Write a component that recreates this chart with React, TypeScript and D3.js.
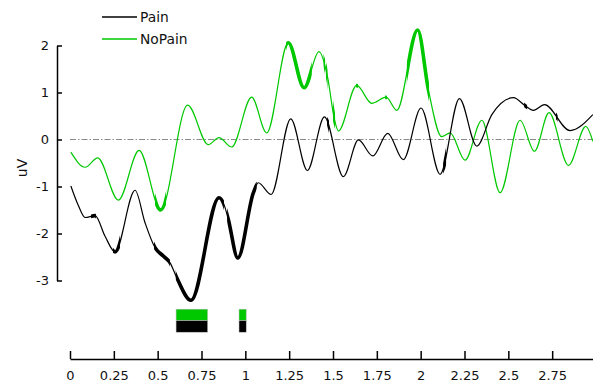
import React, { useEffect, useRef } from "react";
import * as d3 from "d3";

// waveform samples (time in s, amplitude in uV)
const painTime = [0.005, 0.047, 0.086, 0.143, 0.2, 0.257, 0.371, 0.428, 0.485, 0.532, 0.57, 0.609, 0.69, 0.85, 0.878, 0.903, 0.957, 1.046, 1.074, 1.147, 1.259, 1.354, 1.451, 1.559, 1.645, 1.727, 1.812, 1.901, 2.002, 2.111, 2.221, 2.32, 2.406, 2.529, 2.596, 2.643, 2.706, 2.852, 2.982];
const painUv = [-0.99, -1.4, -1.66, -1.62, -2.06, -2.39, -1.08, -1.77, -2.3, -2.48, -2.62, -2.94, -3.42, -1.24, -1.38, -1.7, -2.52, -1.13, -0.92, -1.17, 0.44, -0.66, 0.48, -0.79, -0.01, -0.35, 0.13, -0.43, 0.67, -0.74, 0.87, -0.14, 0.53, 0.89, 0.72, 0.62, 0.74, 0.19, 0.53];

const noPainTime = [0.005, 0.086, 0.158, 0.276, 0.394, 0.517, 0.671, 0.789, 0.85, 0.922, 1.036, 1.122, 1.245, 1.335, 1.42, 1.47, 1.508, 1.531, 1.635, 1.721, 1.803, 1.864, 1.983, 2.044, 2.12, 2.168, 2.253, 2.349, 2.453, 2.567, 2.649, 2.732, 2.843, 2.942, 2.982];
const noPainUv = [-0.27, -0.59, -0.39, -1.29, -0.23, -1.5, 0.73, -0.11, 0.04, -0.16, 0.9, 0.14, 2.06, 1.1, 1.87, 1.31, 0.43, 0.18, 1.15, 0.77, 0.9, 0.62, 2.33, 1.06, 0.06, 0.14, -0.44, 0.41, -1.13, 0.41, -0.25, 0.57, -0.55, 0.28, -0.04];

// significant stretches, drawn with a thicker line
const painSig = [[0.12, 0.148], [0.245, 0.285], [0.479, 0.57], [0.603, 0.878], [0.896, 1.065], [1.466, 1.477], [2.128, 2.145], [2.59, 2.607], [2.772, 2.781]];
const noPainSig = [[0.485, 0.548], [1.232, 1.379], [1.446, 1.455], [1.46, 1.469], [1.5, 1.512], [1.631, 1.643], [1.797, 1.808], [1.921, 2.048]];

// cluster windows shown as bars under the curves
const clusterWindows = [[0.605, 0.785], [0.964, 1.005]];

const xTicks = [0, 0.25, 0.5, 0.75, 1, 1.25, 1.5, 1.75, 2, 2.25, 2.5, 2.75];
const xTickLabels = ["0", "0.25", "0.5", "0.75", "1", "1.25", "1.5", "1.75", "2", "2.25", "2.5", "2.75"];
const yTicks = [-3, -2, -1, 0, 1, 2];
const seriesNames = ["Pain", "NoPain"];
const colors = ["#000000", "#00c800"];

const W = 593;
const H = 383;
const FONT = "DejaVu Sans, Verdana, sans-serif";

export default function App() {
  const ref = useRef<SVGSVGElement>(null);

  useEffect(() => {
    const svg = d3.select(ref.current);
    svg.selectAll("*").remove();

    const x = d3.scaleLinear().domain([0, 3]).range([70, 596]);
    const y = d3.scaleLinear().domain([-3, 2]).range([280.5, 45.5]);

    // zero line
    svg.append("line")
      .attr("x1", x(0)).attr("x2", W)
      .attr("y1", y(0)).attr("y2", y(0))
      .attr("stroke", "#8a8a8a")
      .attr("stroke-width", 1)
      .attr("stroke-dasharray", "6,2,1.5,2");

    const line = d3.line<[number, number]>()
      .x(d => x(d[0]))
      .y(d => y(d[1]))
      .curve(d3.curveMonotoneX);

    const series = [
      { name: seriesNames[1], t: noPainTime, v: noPainUv, sig: noPainSig, color: colors[1] },
      { name: seriesNames[0], t: painTime, v: painUv, sig: painSig, color: colors[0] },
    ];

    const defs = svg.append("defs");

    series.forEach((s, i) => {
      const pts = s.t.map((t, k) => [t, s.v[k]] as [number, number]);
      const clipId = `sig-${i}`;
      const clip = defs.append("clipPath").attr("id", clipId);
      s.sig.forEach(([a, b]) => {
        clip.append("rect")
          .attr("x", x(a)).attr("width", x(b) - x(a))
          .attr("y", 0).attr("height", H);
      });

      svg.append("path")
        .attr("d", line(pts))
        .attr("fill", "none")
        .attr("stroke", s.color)
        .attr("stroke-width", 1.2);

      svg.append("path")
        .attr("d", line(pts))
        .attr("fill", "none")
        .attr("stroke", s.color)
        .attr("stroke-width", 3.6)
        .attr("clip-path", `url(#${clipId})`);
    });

    // cluster bars: green row above, black row below
    const rows = [[-3.61, -3.855, colors[1]], [-3.855, -4.1, colors[0]]] as [number, number, string][];
    rows.forEach(([top, bottom, c]) => {
      clusterWindows.forEach(([a, b]) => {
        svg.append("rect")
          .attr("x", x(a)).attr("width", x(b) - x(a))
          .attr("y", y(top)).attr("height", y(bottom) - y(top))
          .attr("fill", c)
          .attr("stroke", "#bbbbbb")
          .attr("stroke-width", 0.5);
      });
    });

    // x axis
    const xAxis = svg.append("g")
      .attr("transform", "translate(0,359)")
      .call(
        d3.axisBottom(x)
          .tickValues(xTicks)
          .tickFormat((d, i) => xTickLabels[i])
          .tickSizeInner(-8)
          .tickSizeOuter(0)
          .tickPadding(11.5)
      );
    xAxis.select(".domain").attr("stroke-width", 1.5);
    xAxis.selectAll(".tick line").attr("stroke-width", 1.5);
    xAxis.selectAll("text").attr("font-size", 13).attr("font-family", FONT).attr("fill", "#111");

    // y axis
    const yAxis = svg.append("g")
      .attr("transform", "translate(57,0)")
      .call(
        d3.axisLeft(y)
          .tickValues(yTicks)
          .tickFormat(d => String(d))
          .tickSizeInner(-5)
          .tickSizeOuter(0)
          .tickPadding(8)
      );
    yAxis.select(".domain").attr("stroke-width", 1.5);
    yAxis.selectAll(".tick line").attr("stroke-width", 1.5);
    yAxis.selectAll("text").attr("font-size", 13).attr("font-family", FONT).attr("fill", "#111");

    svg.append("text")
      .attr("transform", "translate(27,168) rotate(-90)")
      .attr("text-anchor", "middle")
      .attr("font-size", 14)
      .attr("font-family", FONT)
      .attr("fill", "#111")
      .text("uV");

    // legend
    const legend = svg.append("g").attr("transform", "translate(102,17)");
    seriesNames.forEach((name, i) => {
      const row = legend.append("g").attr("transform", `translate(0,${i * 22})`);
      row.append("line")
        .attr("x1", 0).attr("x2", 35)
        .attr("stroke", colors[i])
        .attr("stroke-width", 1.3);
      row.append("text")
        .attr("x", 38).attr("y", 5)
        .attr("font-size", 13.8)
        .attr("font-family", FONT)
        .attr("fill", "#111")
        .text(name);
    });
  }, []);

  return (
    <svg
      ref={ref}
      width={W}
      height={H}
      style={{ position: "absolute", left: 0, top: 0, background: "#fff", display: "block" }}
    />
  );
}
